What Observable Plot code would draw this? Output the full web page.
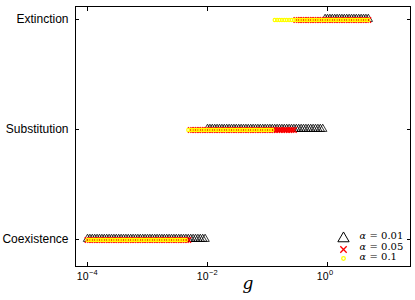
<!DOCTYPE html>
<html><head><meta charset="utf-8">
<script src="https://cdn.jsdelivr.net/npm/d3@7"></script>
<script src="https://cdn.jsdelivr.net/npm/@observablehq/plot@0.6"></script>
<style>
body{margin:0;background:#fff;}
#chart{width:415px;height:300px;}
</style></head><body><div id="chart"></div>
<script>
// Outcome categories (bottom to top)
const outcomes = ["Coexistence", "Substitution", "Extinction"];
// Series: significance levels alpha
const alphas = ["0.01", "0.05", "0.1"];
const log10gGrid = [
  -4.00,-3.96,-3.92,-3.88,-3.84,-3.80,-3.76,-3.72,-3.68,-3.64,
  -3.60,-3.56,-3.52,-3.48,-3.44,-3.40,-3.36,-3.32,-3.28,-3.24,
  -3.20,-3.16,-3.12,-3.08,-3.04,-3.00,-2.96,-2.92,-2.88,-2.84,
  -2.80,-2.76,-2.72,-2.68,-2.64,-2.60,-2.56,-2.52,-2.48,-2.44,
  -2.40,-2.36,-2.32,-2.28,-2.24,-2.20,-2.16,-2.12,-2.08,-2.04,
  -2.00,-1.96,-1.92,-1.88,-1.84,-1.80,-1.76,-1.72,-1.68,-1.64,
  -1.60,-1.56,-1.52,-1.48,-1.44,-1.40,-1.36,-1.32,-1.28,-1.24,
  -1.20,-1.16,-1.12,-1.08,-1.04,-1.00,-0.96,-0.92,-0.88,-0.84,
  -0.80,-0.76,-0.72,-0.68,-0.64,-0.60,-0.56,-0.52,-0.48,-0.44,
  -0.40,-0.36,-0.32,-0.28,-0.24,-0.20,-0.16,-0.12,-0.08,-0.04,
   0.00, 0.04, 0.08, 0.12, 0.16, 0.20, 0.24, 0.28, 0.32, 0.36,
   0.40, 0.44, 0.48, 0.52, 0.56, 0.60, 0.64, 0.68
];
// Last log10 g classified as Coexistence / Substitution, per alpha
const coexistenceLast  = [-2.04, -2.32, -2.36];
const substitutionLast = [-0.08, -0.56, -0.92];
// x tick values (log10 g)
const xTickExps = [-4, -2, 0];

const xTicks = xTickExps.map(e => 10 ** e);

const rows = alphas.map((a, i) => log10gGrid.map(e => ({
  alpha: a,
  g: 10 ** e,
  outcome: e <= coexistenceLast[i] + 1e-6 ? outcomes[0]
         : e <= substitutionLast[i] + 1e-6 ? outcomes[1] : outcomes[2]
})));

const styles = [
  {symbol: "triangle", stroke: "#000000", r: 3.1, strokeWidth: 0.8},
  {symbol: "times", stroke: "#ff0000", r: 2.6, strokeWidth: 1.4},
  {symbol: "circle", stroke: "#ffff00", r: 1.6, strokeWidth: 1.2}
];
const legendSymbolDy = [-28, -17, -8];
const legendTextDy = [-27.5, -17, -6.5];

const sans = "Liberation Sans, Arial, sans-serif";
const serif = "DejaVu Serif, serif";

const marks = [
  Plot.frame({stroke: "#000", strokeWidth: 1}),
  ...rows.map((r, i) => Plot.dot(r, {x: "g", y: "outcome", fill: "none", ...styles[i], dy: i === 0 ? -0.5 : 0.5})),
  // x ticks (inside, bottom and top)
  Plot.axisX(xTicks, {anchor: "bottom", tickSize: -4, tickFormat: () => "", stroke: "#000", label: null}),
  Plot.axisX(xTicks, {anchor: "top", tickSize: -4, tickFormat: () => "", stroke: "#000", label: null}),
  Plot.text(xTickExps, {x: e => 10 ** e, frameAnchor: "bottom", dy: 13, dx: 1,
    text: () => "10", textAnchor: "end", fontFamily: sans, fontSize: 10.5, fill: "#000"}),
  Plot.text(xTickExps, {x: e => 10 ** e, frameAnchor: "bottom", dy: 8, dx: 1.5,
    text: e => e < 0 ? "\u2212" + (-e) : String(e), textAnchor: "start", fontFamily: sans, fontSize: 7.5, fill: "#000"}),
  // y ticks (inside, left and right) and labels
  Plot.axisY(outcomes, {anchor: "left", tickSize: -4, tickFormat: () => "", stroke: "#000", label: null}),
  Plot.axisY(outcomes, {anchor: "right", tickSize: -4, tickFormat: () => "", stroke: "#000", label: null}),
  Plot.axisY(outcomes, {anchor: "left", tickSize: 0, tickPadding: 7, fontFamily: sans, fontSize: 12, fill: "#000", label: null}),
  // x label
  Plot.text(["g"], {frameAnchor: "bottom", dx: 5, dy: 22, text: d => d, fontFamily: serif, fontStyle: "italic", fontSize: 17, fill: "#000"}),
  // legend
  ...alphas.map((a, i) => Plot.dot([a], {frameAnchor: "bottom-right", dx: -67, dy: legendSymbolDy[i], fill: "none", ...styles[i], r: i === 0 ? 4.2 : i === 1 ? 3 : 1.8, strokeWidth: i === 0 ? 1 : 1.3})),
  ...alphas.map((a, i) => Plot.text([a], {frameAnchor: "bottom-right", dx: -51, dy: legendTextDy[i], text: () => "\u03B1", textAnchor: "start", fontFamily: serif, fontStyle: "italic", fontSize: 9.5, fill: "#000"})),
  ...alphas.map((a, i) => Plot.text([a], {frameAnchor: "bottom-right", dx: -41, dy: legendTextDy[i], text: d => "= " + d, textAnchor: "start", fontFamily: serif, fontSize: 10, fill: "#000"}))
];

const chart = Plot.plot({
  width: 415, height: 300,
  marginLeft: 75, marginRight: 5, marginTop: 6, marginBottom: 34,
  style: {background: "#fff", fontFamily: sans},
  x: {type: "log", domain: [10 ** -4.2, 10 ** 1.383]},
  y: {type: "point", domain: outcomes, range: [239, 18], padding: 0},
  marks
});
document.getElementById("chart").appendChild(chart);
</script></body></html>
